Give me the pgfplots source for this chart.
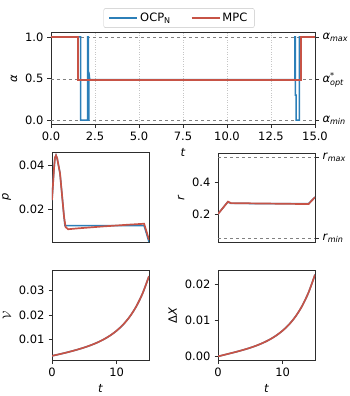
\documentclass[border=0pt]{standalone}
\usepackage{fontspec}
\setmainfont{DejaVu Sans}
\usepackage{amsmath}
\usepackage{pgfplots}
\pgfplotsset{compat=1.18}

\definecolor{ocpblue}{RGB}{44,127,184}
\definecolor{mpcred}{RGB}{199,83,70}
\definecolor{spine}{RGB}{45,45,45}

\newcommand{\fs}{\fontsize{11.5}{13.5}\selectfont}

\pgfplotsset{
  base/.style={
    scale only axis, xmin=0, xmax=15,
    axis line style={spine, line width=0.8pt},
    tick style={spine, line width=0.8pt},
    tick align=outside, major tick length=3.5pt,
    xtick pos=bottom, ytick pos=left,
    /pgf/number format/assume math mode=true,
    scaled y ticks=false, scaled x ticks=false,
    tick label style={font=\fs},
    label style={font=\fs},
  },
  ocpline/.style={color=ocpblue, line width=1.5pt},
  mpcline/.style={color=mpcred, line width=1.7pt},
  refline/.style={gray, dashed, line width=0.9pt, forget plot},
  yfmt/.style={yticklabel style={/pgf/number format/.cd, fixed, fixed zerofill, precision=#1}},
}

% state trajectories (both controllers coincide)
\pgfplotstableread{
t   V        dX
0   0.00340  0.00000
1   0.00398  0.00045
2   0.00460  0.00090
3   0.00527  0.00136
4   0.00600  0.00186
5   0.00681  0.00241
6   0.00774  0.00305
7   0.00882  0.00380
8   0.01012  0.00470
9   0.01170  0.00581
10  0.01366  0.00718
11  0.01613  0.00891
12  0.01930  0.01113
13  0.02341  0.01401
14  0.02880  0.01778
15  0.03589  0.02274
}\states

\begin{document}
\fs
\begin{tikzpicture}
\useasboundingbox (0,0) rectangle (349pt,-396pt);

% right-hand bound labels of the control plot (drawn first, underneath)
\begin{axis}[base,
  at={(51pt,-124.15pt)}, anchor=south west,
  width=264pt, height=91.3pt,
  ymin=-0.05, ymax=1.05,
  axis x line=none, axis y line*=right, ytick pos=right,
  ytick={0,0.485,1},
  yticklabels={{\textit{α}\textsubscript{\textit{min}}},
               {\textit{α}$^{\text{*}}_{\text{\itshape opt}}$},
               {\textit{α}\textsubscript{\textit{max}}}},
]
\end{axis}

% ---- control alpha over the horizon ----
\begin{axis}[base,
  at={(51pt,-124.15pt)}, anchor=south west,
  width=264pt, height=91.3pt,
  ymin=-0.05, ymax=1.05,
  xtick={0,2.5,5,7.5,10,12.5,15},
  xticklabel style={/pgf/number format/.cd, fixed, fixed zerofill, precision=1},
  ytick={0,0.5,1}, yfmt=1,
  xmajorgrids, grid style={dotted, gray!45, line width=0.6pt},
  xlabel={\textit{t}}, ylabel={\textit{α}},
  legend columns=2,
  legend style={at={(0.485,1)}, anchor=south, yshift=5pt,
    draw=gray!45, rounded corners=2pt, font=\fs,
    inner xsep=5pt, inner ysep=2.5pt,
    /tikz/every even column/.append style={column sep=18pt}},
  legend image code/.code={\draw[#1] (0pt,0pt) -- (28pt,0pt);},
]
\addplot[refline] coordinates {(0,0) (15,0)};
\addplot[refline] coordinates {(0,0.485) (15,0.485)};
\addplot[refline] coordinates {(0,1) (15,1)};
\addplot[ocpline] coordinates {
  (0,1) (1.69,1) (1.69,0) (2.08,0) (2.08,1) (2.12,1) (2.12,0) (2.15,0)
  (2.15,0.58) (2.2,0.485) (13.85,0.485) (13.85,1) (13.88,1) (13.88,0.3)
  (13.93,0.3) (13.93,0) (14.11,0) (14.11,1) (15,1)};
\addlegendentry{OCP\textsubscript{N}}
\addplot[mpcline] coordinates {
  (0,1) (1.52,1) (1.52,0.485) (14.19,0.485) (14.19,1) (15,1)};
\addlegendentry{MPC}
\end{axis}

% ---- p ----
\begin{axis}[base,
  at={(52pt,-242pt)}, anchor=south west,
  width=97pt, height=90pt,
  ymin=0.005, ymax=0.0459,
  xtick=\empty, ytick={0.02,0.04}, yfmt=2,
  ylabel={\textit{p}},
]
\addplot[ocpline] coordinates {
  (0,0.024) (0.3,0.038) (0.45,0.0432) (0.62,0.0444) (0.8,0.0430)
  (1.24,0.0362) (1.86,0.0165) (2.0,0.0124) (14.25,0.0124) (15,0.005)};
\addplot[mpcline] coordinates {
  (0,0.024) (0.3,0.038) (0.45,0.0432) (0.62,0.0444) (0.8,0.0430)
  (1.24,0.0362) (1.86,0.0165) (2.1,0.0118) (2.5,0.0108) (4,0.0112)
  (8,0.0121) (12,0.0129) (14.25,0.0133) (15,0.006)};
\end{axis}

% ---- r ----
\begin{axis}[base,
  at={(218pt,-242pt)}, anchor=south west,
  width=97pt, height=89pt,
  ymin=0.025, ymax=0.581,
  axis x line=none, axis y line*=right, ytick pos=right,
  ytick={0.05,0.556},
  yticklabels={{\textit{r}\textsubscript{\textit{min}}},
               {\textit{r}\textsubscript{\textit{max}}}},
]
\end{axis}
\begin{axis}[base,
  at={(218pt,-242pt)}, anchor=south west,
  width=97pt, height=89pt,
  ymin=0.025, ymax=0.581,
  xtick=\empty, ytick={0.2,0.4}, yfmt=1,
  ylabel={\textit{r}},
]
\addplot[refline] coordinates {(0,0.05) (15,0.05)};
\addplot[refline] coordinates {(0,0.556) (15,0.556)};
\addplot[ocpline] coordinates {
  (0,0.2) (1.5,0.275) (2.0,0.266) (14.0,0.264) (15,0.305)};
\addplot[mpcline] coordinates {
  (0,0.2) (1.55,0.277) (2.0,0.268) (14.0,0.262) (15,0.305)};
\end{axis}

% ---- V ----
\begin{axis}[base,
  at={(52pt,-360.5pt)}, anchor=south west,
  width=97pt, height=90pt,
  ymin=0.0015, ymax=0.0382,
  xtick={0,10}, ytick={0.01,0.02,0.03}, yfmt=2,
  xlabel={\textit{t}}, ylabel={$\mathcal{V}$},
]
\addplot[ocpline, smooth] table[x=t, y=V] {\states};
\addplot[mpcline, smooth] table[x=t, y=V] {\states};
\end{axis}

% ---- Delta X ----
\begin{axis}[base,
  at={(218pt,-360.5pt)}, anchor=south west,
  width=97pt, height=90pt,
  ymin=-0.00114, ymax=0.0239,
  xtick={0,10}, ytick={0,0.01,0.02}, yfmt=2,
  xlabel={\textit{t}}, ylabel={Δ\textit{X}},
]
\addplot[ocpline, smooth] table[x=t, y=dX] {\states};
\addplot[mpcline, smooth] table[x=t, y=dX] {\states};
\end{axis}
\end{tikzpicture}
\end{document}
